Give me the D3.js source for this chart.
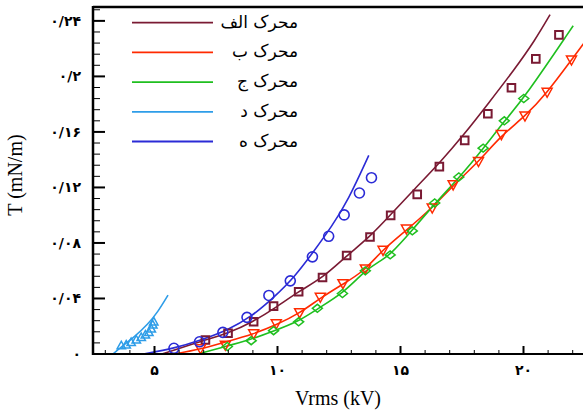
<!DOCTYPE html>
<html>
<head>
<meta charset="utf-8">
<script src="https://cdn.jsdelivr.net/npm/d3@7"></script>
<style>
  html, body { margin: 0; padding: 0; background: #fff; }
  svg { display: block; }
</style>
</head>
<body>
<svg id="chart" width="583" height="414"></svg>
<script>
// ---------------- DATA ----------------
const seriesNames = ["محرک الف", "محرک ب", "محرک ج", "محرک د", "محرک ه"];

// Measured points (markers)
const alefV = [7.07, 7.99, 9.03, 9.84, 10.86, 11.83, 12.81, 13.76, 14.60, 15.68, 16.58, 17.61, 18.55, 19.51, 20.50, 21.44];
const alefT = [0.0101, 0.0149, 0.0232, 0.0345, 0.0448, 0.0551, 0.0710, 0.0843, 0.0999, 0.1150, 0.1350, 0.1539, 0.1731, 0.1918, 0.2126, 0.2299];

const beV = [6.87, 7.88, 9.03, 9.95, 10.90, 11.74, 12.66, 13.57, 14.29, 15.24, 16.29, 17.14, 18.17, 19.10, 20.06, 20.96, 21.95];
const beT = [0.0034, 0.0060, 0.0142, 0.0214, 0.0293, 0.0405, 0.0503, 0.0609, 0.0743, 0.0897, 0.1048, 0.1215, 0.1383, 0.1577, 0.1711, 0.1882, 0.2114];

const jimV = [7.96, 8.93, 9.84, 10.86, 11.62, 12.64, 13.57, 14.58, 15.48, 16.39, 17.37, 18.36, 19.22, 20.01];
const jimT = [0.0054, 0.0096, 0.0168, 0.0232, 0.0329, 0.0436, 0.0599, 0.0714, 0.0887, 0.1088, 0.1275, 0.1483, 0.1680, 0.1841];

const dalV = [3.65, 3.85, 4.05, 4.26, 4.46, 4.63, 4.77, 4.87, 4.93, 4.97];
const dalT = [0.0065, 0.0070, 0.0088, 0.0106, 0.0124, 0.0142, 0.0160, 0.0185, 0.0214, 0.0237];

const heV = [5.79, 6.83, 7.78, 8.76, 9.65, 10.52, 11.42, 12.08, 12.71, 13.33, 13.82];
const heT = [0.0041, 0.0088, 0.0156, 0.0264, 0.0422, 0.0527, 0.0700, 0.0848, 0.1002, 0.1160, 0.1270];

// Model curves (lines)
const alefFitV = [5.3, 7.06, 7.99, 9.00, 9.91, 10.83, 11.85, 12.80, 13.75, 14.60, 15.58, 16.60, 17.61, 18.56, 19.65, 20.46, 21.08];
const alefFitT = [0.0000, 0.0101, 0.0149, 0.0232, 0.0331, 0.0448, 0.0549, 0.0707, 0.0843, 0.1004, 0.1191, 0.1378, 0.1587, 0.1803, 0.2054, 0.2258, 0.2445];

const beFitV = [5.8, 6.87, 7.92, 9.00, 9.95, 10.90, 11.75, 12.66, 13.54, 14.22, 15.24, 16.26, 17.14, 18.16, 19.10, 20.06, 20.96, 21.95, 22.48];
const beFitT = [0.0000, 0.0034, 0.0088, 0.0142, 0.0209, 0.0293, 0.0405, 0.0503, 0.0599, 0.0743, 0.0892, 0.1048, 0.1215, 0.1383, 0.1575, 0.1711, 0.1882, 0.2119, 0.2245];

const jimFitV = [6.77, 7.85, 8.86, 9.88, 10.83, 11.65, 12.66, 13.54, 14.22, 14.56, 15.48, 16.39, 17.41, 18.36, 19.24, 20.05, 22.02];
const jimFitT = [0.0000, 0.0052, 0.0101, 0.0168, 0.0232, 0.0329, 0.0436, 0.0599, 0.0676, 0.0712, 0.0892, 0.1083, 0.1275, 0.1479, 0.1682, 0.1850, 0.2365];

const dalFitV = [3.31, 3.65, 4.19, 4.73, 5.14, 5.55];
const dalFitT = [0.0000, 0.0052, 0.0124, 0.0214, 0.0304, 0.0424];

const heFitV = [4.55, 5.81, 6.90, 7.99, 8.93, 9.88, 10.70, 11.51, 12.19, 12.87, 13.71];
const heFitT = [0.0000, 0.0041, 0.0101, 0.0173, 0.0268, 0.0412, 0.0556, 0.0748, 0.0915, 0.1107, 0.1431];

const colors = ["#7a1a33", "#ff2a00", "#1fbf1f", "#2e9de8", "#2b2bd6"];

const xTickValues = [5, 10, 15, 20];
const xTickLabels = ["۵", "۱۰", "۱۵", "۲۰"];
const yTickValues = [0, 0.04, 0.08, 0.12, 0.16, 0.2, 0.24];
const yTickLabels = ["۰", "۰/۰۴", "۰/۰۸", "۰/۱۲", "۰/۱۶", "۰/۲", "۰/۲۴"];

const xLabel = "Vrms (kV)";
const yLabel = "T (mN/m)";

// ---------------- LAYOUT ----------------
const svg = d3.select("#chart");
const mLeft = 93, mRight = 585, mTop = 7, mBottom = 354;
const x = d3.scaleLinear().domain([2.5, 22.5]).range([mLeft, mRight]);
const y = d3.scaleLinear().domain([0, 0.25]).range([mBottom, mTop]);

svg.append("defs").append("clipPath").attr("id", "plotClip")
  .append("rect").attr("x", mLeft).attr("y", mTop).attr("width", 583 - mLeft).attr("height", mBottom - mTop);

const zip = (a, b) => a.map((v, i) => [v, b[i]]);

const series = [
  { pts: zip(alefV, alefT), fit: zip(alefFitV, alefFitT), marker: "square" },
  { pts: zip(beV, beT), fit: zip(beFitV, beFitT), marker: "tridown" },
  { pts: zip(jimV, jimT), fit: zip(jimFitV, jimFitT), marker: "diamond" },
  { pts: zip(dalV, dalT), fit: zip(dalFitV, dalFitT), marker: "triup" },
  { pts: zip(heV, heT), fit: zip(heFitV, heFitT), marker: "circle" }
];

// ---------------- CURVES ----------------
const plot = svg.append("g").attr("clip-path", "url(#plotClip)");
const line = d3.line().x(d => x(d[0])).y(d => y(d[1])).curve(d3.curveBasis);

series.forEach((s, i) => {
  plot.append("path").datum(s.fit)
    .attr("d", line)
    .attr("fill", "none")
    .attr("stroke", colors[i])
    .attr("stroke-width", 1.6);
});

// ---------------- MARKERS ----------------
function markerPath(type, cx, cy) {
  if (type === "square") {
    const h = 3.8;
    return `M${cx - h},${cy - h}H${cx + h}V${cy + h}H${cx - h}Z`;
  }
  if (type === "diamond") {
    const w = 5, h = 4;
    return `M${cx - w},${cy}L${cx},${cy - h}L${cx + w},${cy}L${cx},${cy + h}Z`;
  }
  if (type === "tridown") {
    const w = 5, h = 4.5;
    return `M${cx - w},${cy - h}L${cx + w},${cy - h}L${cx},${cy + h}Z`;
  }
  if (type === "triup") {
    const w = 4.2, h = 3.8;
    return `M${cx - w},${cy + h}L${cx + w},${cy + h}L${cx},${cy - h}Z`;
  }
  return null;
}

series.forEach((s, i) => {
  const g = plot.append("g");
  if (s.marker === "circle") {
    g.selectAll("circle").data(s.pts).join("circle")
      .attr("cx", d => x(d[0])).attr("cy", d => y(d[1])).attr("r", 5)
      .attr("fill", "none").attr("stroke", colors[i]).attr("stroke-width", 1.6);
  } else {
    g.selectAll("path").data(s.pts).join("path")
      .attr("d", d => markerPath(s.marker, x(d[0]), y(d[1])))
      .attr("fill", "none").attr("stroke", colors[i])
      .attr("stroke-width", s.marker === "square" ? 2 : 1.5);
  }
});

// ---------------- AXES ----------------
const axisG = svg.append("g");
const xMinor = d3.range(3, 23, 1).filter(v => v % 5 !== 0);
axisG.selectAll(".xminor").data(xMinor).join("line")
  .attr("x1", d => x(d)).attr("x2", d => x(d))
  .attr("y1", mBottom).attr("y2", mBottom - 4)
  .attr("stroke", "#000").attr("stroke-width", 1);
axisG.selectAll(".xmajor").data(xTickValues).join("line")
  .attr("x1", d => x(d)).attr("x2", d => x(d))
  .attr("y1", mBottom).attr("y2", mBottom - 8)
  .attr("stroke", "#000").attr("stroke-width", 2);

const yMinor = d3.range(0, 0.2501, 0.008).filter(v => Math.abs(v / 0.04 - Math.round(v / 0.04)) > 0.01);
axisG.selectAll(".yminor").data(yMinor).join("line")
  .attr("x1", mLeft).attr("x2", mLeft + 7)
  .attr("y1", d => y(d)).attr("y2", d => y(d))
  .attr("stroke", "#000").attr("stroke-width", 1);
axisG.selectAll(".ymajor").data(yTickValues).join("line")
  .attr("x1", mLeft).attr("x2", mLeft + 12)
  .attr("y1", d => y(d)).attr("y2", d => y(d))
  .attr("stroke", "#000").attr("stroke-width", 2);

// frame
axisG.append("line").attr("x1", mLeft).attr("x2", 583).attr("y1", mTop).attr("y2", mTop)
  .attr("stroke", "#000").attr("stroke-width", 2.5);
axisG.append("line").attr("x1", mLeft).attr("x2", 583).attr("y1", mBottom).attr("y2", mBottom)
  .attr("stroke", "#000").attr("stroke-width", 2);
axisG.append("line").attr("x1", mLeft).attr("x2", mLeft).attr("y1", mTop - 1).attr("y2", mBottom + 1)
  .attr("stroke", "#000").attr("stroke-width", 2.5);

// tick labels
const tickFont = "'DejaVu Sans', sans-serif";
axisG.selectAll(".xlab").data(xTickValues).join("text")
  .attr("x", d => x(d)).attr("y", 375)
  .attr("text-anchor", "middle")
  .attr("font-family", tickFont).attr("font-size", 14).attr("font-weight", "bold")
  .text((d, i) => xTickLabels[i]);

axisG.selectAll(".ylab").data(yTickValues).join("text")
  .attr("x", 81).attr("y", d => y(d) + 5)
  .attr("text-anchor", "end")
  .attr("font-family", tickFont).attr("font-size", 14).attr("font-weight", "bold")
  .text((d, i) => yTickLabels[i]);

// axis titles
svg.append("text")
  .attr("x", 338).attr("y", 405)
  .attr("text-anchor", "middle")
  .attr("font-family", "'Liberation Serif', 'Times New Roman', serif").attr("font-size", 20)
  .text(xLabel);
svg.append("text")
  .attr("transform", "translate(22,175) rotate(-90)")
  .attr("text-anchor", "middle")
  .attr("font-family", "'Liberation Serif', 'Times New Roman', serif").attr("font-size", 20)
  .text(yLabel);

// ---------------- LEGEND ----------------
const legendY = [22.7, 52.4, 82.1, 111.8, 141.5];
const legend = svg.append("g");
seriesNames.forEach((name, i) => {
  legend.append("line")
    .attr("x1", 132).attr("x2", 213)
    .attr("y1", legendY[i]).attr("y2", legendY[i])
    .attr("stroke", colors[i]).attr("stroke-width", 1.8);
  legend.append("text")
    .attr("x", 298).attr("y", legendY[i] + 5)
    .attr("text-anchor", "start")
    .attr("direction", "rtl")
    .attr("font-family", "'DejaVu Sans', sans-serif").attr("font-size", 17)
    .text(name);
});
</script>
</body>
</html>
